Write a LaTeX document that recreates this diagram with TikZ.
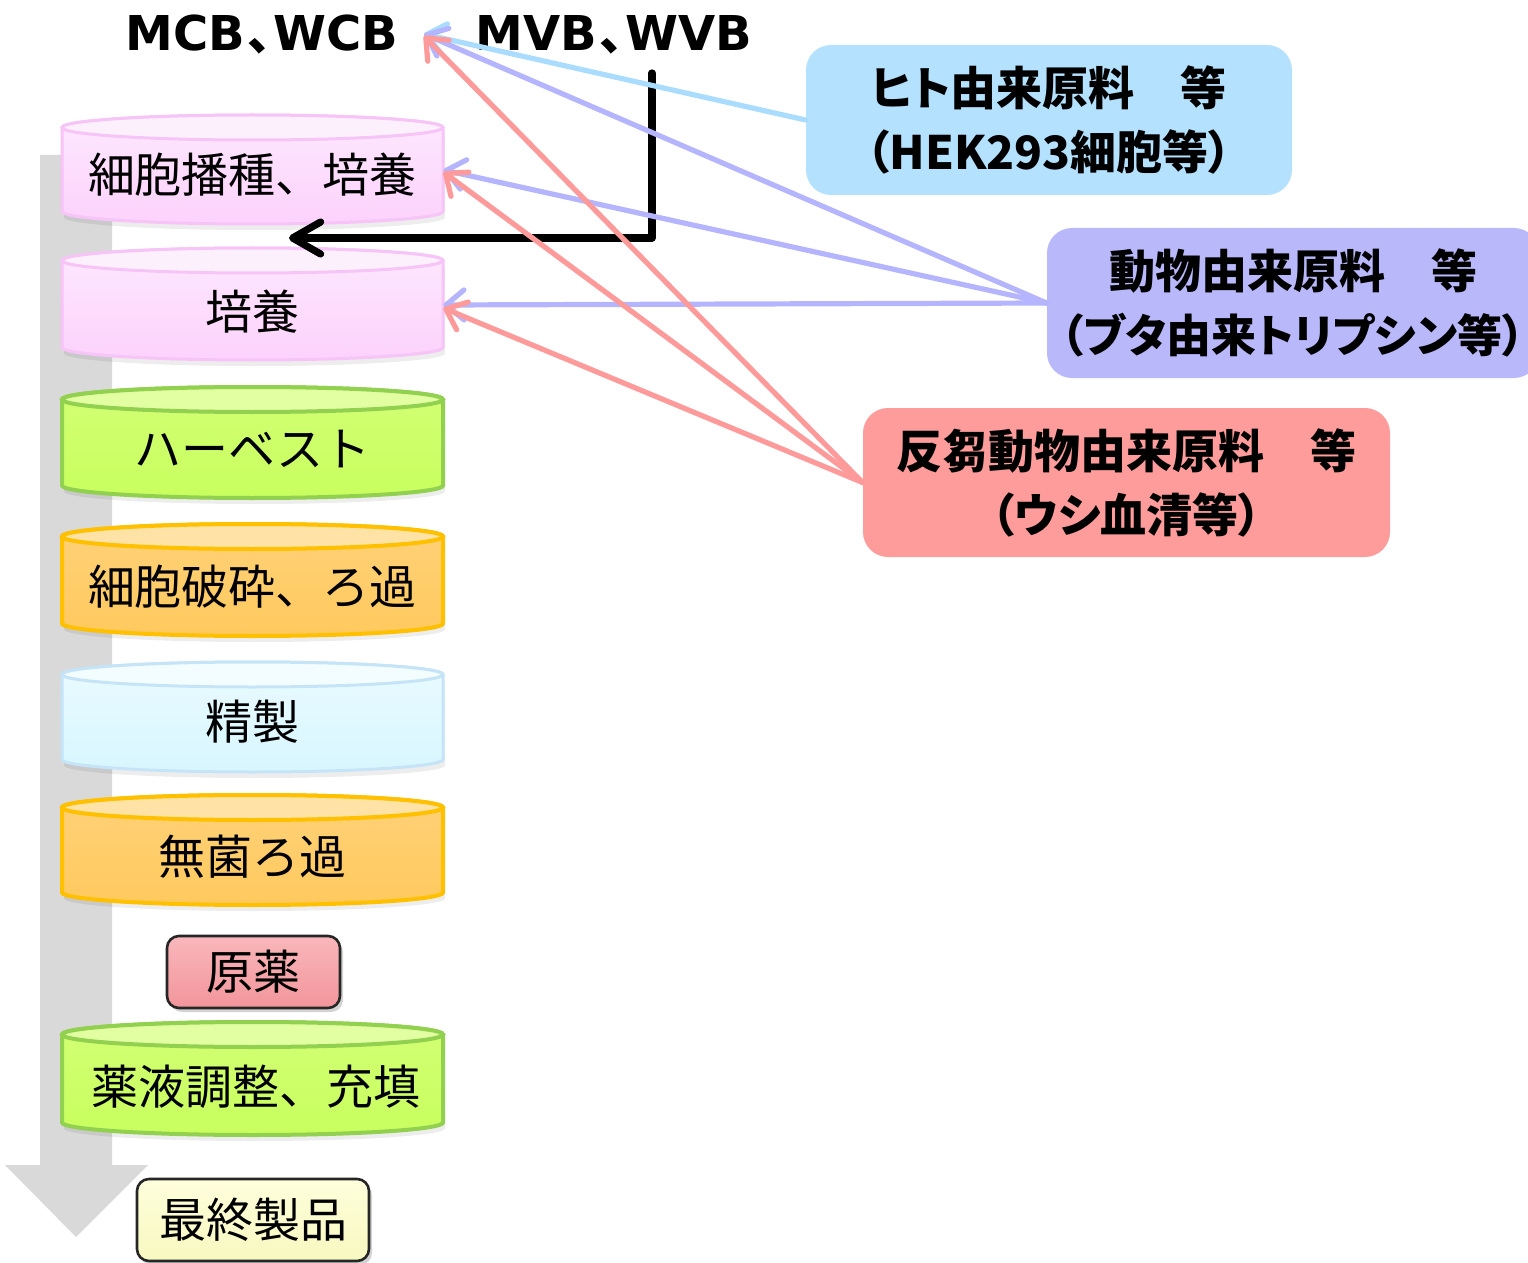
\documentclass[tikz,border=0pt]{standalone}
\usepackage{fontspec}
\setmainfont{DejaVu Sans}
\newfontfamily\jp{Noto Sans CJK JP}
\newfontfamily\jpp{Noto Sans CJK JP}[RawFeature=+palt]
\usetikzlibrary{arrows.meta,shadows,calc}

\definecolor{grayarrow}{HTML}{D9D9D9}
\definecolor{pinktop}{HTML}{FDF0FD}
\definecolor{pinkA}{HTML}{FEE8FE}
\definecolor{pinkB}{HTML}{FCD2FC}
\definecolor{pinkline}{HTML}{F6C4F6}
\definecolor{greentop}{HTML}{E2FFA2}
\definecolor{greenA}{HTML}{D2FF74}
\definecolor{greenB}{HTML}{C8FF5E}
\definecolor{greenline}{HTML}{92D050}
\definecolor{orangetop}{HTML}{FFE2A6}
\definecolor{orangeA}{HTML}{FFD178}
\definecolor{orangeB}{HTML}{FFC95E}
\definecolor{orangeline}{HTML}{FFC000}
\definecolor{cyantop}{HTML}{F3FDFF}
\definecolor{cyanA}{HTML}{E9FBFF}
\definecolor{cyanB}{HTML}{D8F6FF}
\definecolor{cyanline}{HTML}{C5E4F7}
\definecolor{drugA}{HTML}{F9B7BB}
\definecolor{drugB}{HTML}{F2959B}
\definecolor{finalA}{HTML}{FEFEDC}
\definecolor{finalB}{HTML}{F8F8C0}
\definecolor{hekfill}{HTML}{B3E1FE}
\definecolor{anifill}{HTML}{B8B8FB}
\definecolor{rumfill}{HTML}{FE9B9B}
\definecolor{hekline}{HTML}{AADCFF}
\definecolor{aniline}{HTML}{B4B4FF}
\definecolor{rumline}{HTML}{FF9A9A}

\newcommand\mycyl[7]{%
  \pgfmathsetmacro\cylA{#1+12.5}%
  \pgfmathsetmacro\cylB{#2-12.5}%
  \fill[black,opacity=0.07] (64,\cylA+6) -- (64,\cylB+6)
    arc[start angle=180,end angle=360,x radius=95.25pt,y radius=6.25pt]
    -- (445,\cylA+6) -- cycle;
  \path[draw=#6, line width=#7, top color=#4, bottom color=#5]
    (62,\cylA) -- (62,\cylB)
    arc[start angle=180,end angle=360,x radius=95.25pt,y radius=6.25pt]
    -- (443,\cylA)
    arc[start angle=0,end angle=180,x radius=95.25pt,y radius=6.25pt] -- cycle;
  \draw[draw=#6, line width=#7, fill=#3] (252.5,\cylA) ellipse[x radius=95.25pt, y radius=6.25pt];
}

\tikzset{
  cyltext/.style={font=\jp\fontsize{23.5}{28}\selectfont, minimum width=190.5pt, inner sep=0pt, text=black},
  roundbox/.style={draw=black!85, line width=1.3pt, rounded corners=6pt, inner sep=0pt,
    font=\jp\fontsize{23.5}{28}\selectfont,
    drop shadow={opacity=0.35, shadow xshift=1.5pt, shadow yshift=-2pt}},
  srcbox/.style={rounded corners=12.5pt, inner sep=0pt, align=center,
    font=\jpp\bfseries\fontsize{23}{32}\selectfont},
  titletext/.style={font=\bfseries\fontsize{24}{28}\selectfont, inner sep=0pt},
  feed/.style={line width=2.6pt, line cap=round, -{Straight Barb[length=9pt,width=15pt,round]}},
  flowarrow/.style={line width=3.6pt, line cap=round, line join=round,
    -{Straight Barb[length=14pt,width=16pt,round]}},
}

\begin{document}
\begin{tikzpicture}[x=0.5pt,y=-0.5pt]
\useasboundingbox (0,0) rectangle (1528,1263);
\clip (0,0) rectangle (1528,1263);

% big gray process arrow
\fill[grayarrow] (40,155) -- (112,155) -- (112,1165) -- (148,1165) -- (76,1237) -- (5,1165) -- (40,1165) -- cycle;

% cylinders
\mycyl{115}{224}{pinktop}{pinkA}{pinkB}{pinkline}{1.5pt}
\mycyl{248}{360}{pinktop}{pinkA}{pinkB}{pinkline}{1.5pt}
\mycyl{387}{498}{greentop}{greenA}{greenB}{greenline}{2pt}
\mycyl{524}{636}{orangetop}{orangeA}{orangeB}{orangeline}{2pt}
\mycyl{662}{772}{cyantop}{cyanA}{cyanB}{cyanline}{1.5pt}
\mycyl{795}{905}{orangetop}{orangeA}{orangeB}{orangeline}{2pt}
\mycyl{1022}{1135}{greentop}{greenA}{greenB}{greenline}{2pt}

\node[cyltext] (c1) at (252.5,175) {細胞播種、培養};
\node[cyltext] (c2) at (252.5,312) {培養};
\node[cyltext] (c3) at (252.5,449) {ハーベスト};
\node[cyltext] (c4) at (252.5,587) {細胞破砕、ろ過};
\node[cyltext] (c5) at (252.5,722) {精製};
\node[cyltext] (c6) at (252.5,857) {無菌ろ過};
\node[cyltext] (c8) at (256,1087) {薬液調整、充填};

% product boxes
\node[roundbox, top color=drugA, bottom color=drugB, minimum width=86.5pt, minimum height=36pt] (drug) at (253.5,972) {原薬};
\node[roundbox, top color=finalA, bottom color=finalB, minimum width=116pt, minimum height=41pt] (final) at (253,1220) {最終製品};

% titles
\node[titletext] (mcb) at (262,35) {MCB\kern.04em{\jpp\bfseries 、}\kern.04em WCB};
\node[titletext] (mvb) at (614,35) {MVB\kern.04em{\jpp\bfseries 、}\kern.04em WVB};
\coordinate (mcbtip) at (424,34);
\coordinate (bstart) at (652,73);
\coordinate (bend) at (289,238);

% source boxes
\node[srcbox, fill=hekfill, minimum width=243pt, minimum height=75pt] (hek) at (1049,120)
  {ヒト由来原料　等\\（HEK293細胞等）};
\node[srcbox, fill=anifill, minimum width=246pt, minimum height=75pt] (ani) at (1293,303)
  {動物由来原料　等\\{\fontsize{22.5}{32}\selectfont（ブタ由来トリプシン等）}};
\node[srcbox, fill=rumfill, minimum width=263.5pt, minimum height=74.5pt] (rum) at (1126.5,482.5)
  {反芻動物由来原料　等\\（ウシ血清等）};

% black flow arrow
\draw[flowarrow] (bstart) |- (bend);

% feed arrows
\draw[feed, hekline] (hek.west) -- (mcbtip);
\draw[feed, aniline] (ani.west) -- (mcbtip);
\draw[feed, aniline] (ani.west) -- ($(c1.east)+(0,-5)$);
\draw[feed, aniline] (ani.west) -- ($(c2.east)+(0,-7)$);
\draw[feed, rumline] (rum.west) -- ($(mcbtip)+(0,2)$);
\draw[feed, rumline] (rum.west) -- ($(c1.east)+(0,-3)$);
\draw[feed, rumline] (rum.west) -- ($(c2.east)+(0,-4)$);
\end{tikzpicture}
\end{document}
